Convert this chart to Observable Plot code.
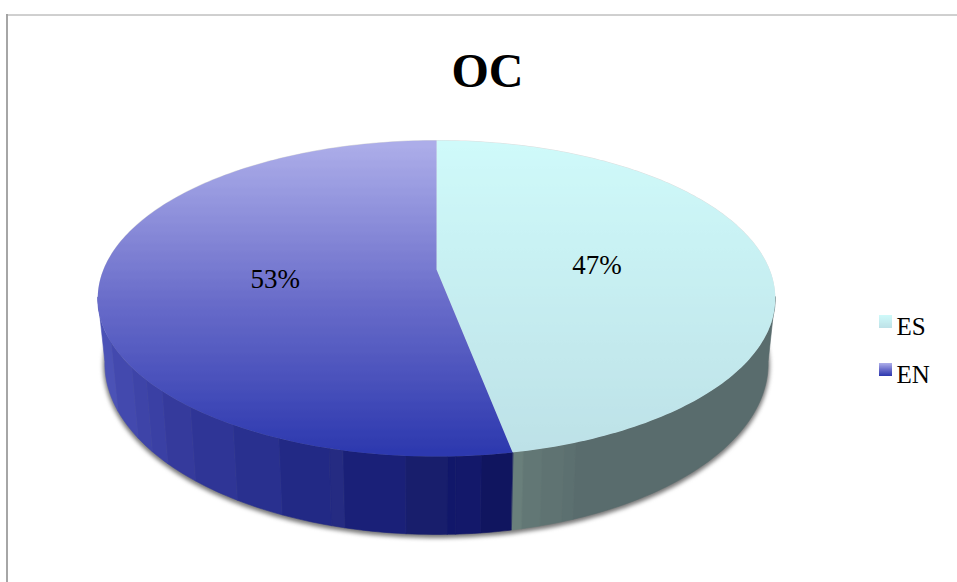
<!DOCTYPE html>
<html>
<head>
<meta charset="utf-8">
<script src="https://cdn.jsdelivr.net/npm/d3@7"></script>
<script src="https://cdn.jsdelivr.net/npm/@observablehq/plot@0.6"></script>
<style>
  html, body { margin: 0; padding: 0; background: #fff; }
  svg { display: block; }
</style>
</head>
<body>
<div id="chart"></div>
<script>
// Shares of the pie, clockwise from twelve o'clock
const categories = ["ES", "EN"];
const shares = [47, 53];
const chartTitle = "OC";

// Side-wall shading on the visible front arc: each band runs up to the given angle
// (degrees, clockwise from the top), the first one starting at wallStart
const wallStart = 100;
const wallAngles = [159.8, 161.6, 164.9, 167.7, 169.2, 173.7, 177.3, 178.5, 184.4, 193.4, 195.4, 203.2, 211, 219.4, 226, 230.3, 235, 244, 260];
const wallColors = ["#596c6d", "#5c7070", "#5f7372", "#627775", "#697f7b", "#10155f", "#13186a", "#11176a", "#181e6c", "#1a2078", "#252b82", "#222985", "#29308f", "#2f3596", "#353a9c", "#3a40a4", "#3e44a8", "#4349ae", "#4b52b6"];

// Perspective of the disc: upper rim and lower rim have their own apex and radii
const W = 957, H = 582;
const centerX = 436, perspective = 0.1836;
const rim = {
  apexY: [269, 331.6],
  radiusX: [333, 326],
  radiusY: [152.7, 165.2]
};

function project(deg, r = 1, level = 0) {
  const t = deg * Math.PI / 180;
  const X = r * Math.sin(t), Y = r * Math.cos(t);
  const w = 1 + perspective * Y;
  return {
    x: centerX + rim.radiusX[level] * X / w,
    y: rim.apexY[level] - rim.radiusY[level] * Y / w
  };
}
const arcPoints = (from, to, level = 0) =>
  d3.range(from, to, 1).concat(to).map((deg) => project(deg, 1, level));

// Slices as angle ranges derived from the shares
const total = d3.sum(shares);
let running = 0;
const slices = categories.map((name, i) => {
  const start = running;
  running += shares[i] / total * 360;
  return {name, share: shares[i], start, end: running, mid: (start + running) / 2};
});

const faces = slices.map((s) => [project(0, 0), ...arcPoints(s.start, s.end)]);

const wallRows = wallAngles.flatMap((end, i) => {
  const start = i ? wallAngles[i - 1] : wallStart;
  const top = arcPoints(start, end, 0), bottom = arcPoints(start, end, 1).reverse();
  return [...top, ...bottom].map((p) => ({...p, band: i, color: wallColors[i]}));
});

// Vertical face shading, stepped into thin, soft-edged horizontal stripes
const stripes = 34;
function gradient(id, colors) {
  const tone = d3.piecewise(d3.interpolateRgb, colors);
  const stops = d3.range(stripes).flatMap((i) => {
    const c = tone((i + 0.5) / stripes);
    return [`<stop offset="${(i + 0.3) / stripes}" stop-color="${c}"/>`, `<stop offset="${(i + 0.7) / stripes}" stop-color="${c}"/>`];
  });
  return `<linearGradient id="${id}" x1="0" y1="0" x2="0" y2="1">${stops.join("")}</linearGradient>`;
}

function gradientDefs() {
  const defs = document.createElementNS("http://www.w3.org/2000/svg", "defs");
  defs.innerHTML =
    gradient("fillES", ["#cffafa", "#bde1e7"]) +
    gradient("fillEN", ["#aeafea", "#6a6dca", "#2b37ae"]);
  return defs;
}

const fills = {ES: "url(#fillES)", EN: "url(#fillEN)"};
const legendY = {ES: 321.5, EN: 369.5};

const chart = Plot.plot({
  width: W,
  height: H,
  margin: 0,
  style: {background: "#fff"},
  x: {domain: [0, W], range: [0, W], axis: null},
  y: {domain: [0, H], range: [0, H], axis: null},
  color: {type: "identity"},
  marks: [
    gradientDefs,
    // Chart area border: only the top and left edges fall inside the frame
    Plot.ruleX([6.5], {y1: 14, y2: H, stroke: "#a6a6a6", strokeWidth: 2}),
    Plot.ruleY([14.5], {x1: 6, x2: W, stroke: "#a0a0a0", strokeWidth: 1}),
    // Soft shadow under the disc
    Plot.line(arcPoints(0, 360, 1), {
      x: "x", y: (d) => d.y + 2, curve: "linear-closed",
      fill: "#777", stroke: "#777", strokeWidth: 3, imageFilter: "blur(2px)"
    }),
    Plot.line(arcPoints(0, 360, 0), {
      x: "x", y: (d) => d.y - 0.5, curve: "linear-closed",
      fill: "#ddd", imageFilter: "blur(0.5px)"
    }),
    // Side wall, one flat band per shade
    Plot.line(wallRows, {
      x: "x", y: "y", z: "band", curve: "linear-closed",
      fill: "color", stroke: "color", strokeWidth: 0.6
    }),
    // Top faces
    ...slices.map((s, i) => Plot.line(faces[i], {
      x: "x", y: "y", curve: "linear-closed", fill: fills[s.name]
    })),
    // Percentage labels
    Plot.text(slices, {
      x: (s) => project(s.mid, 0.485).x,
      y: (s) => project(s.mid, 0.485).y,
      dx: 1,
      dy: 3,
      text: (s) => `${s.share}%`,
      fontFamily: "Liberation Serif",
      fontSize: 27,
      fill: "#000"
    }),
    // Title
    Plot.text([chartTitle], {
      x: [487], y: [71], text: (d) => d,
      fontFamily: "Liberation Serif", fontWeight: "bold", fontSize: 48, fill: "#000"
    }),
    // Legend
    Plot.rect(slices, {
      x1: () => 879, x2: () => 892,
      y1: (s) => legendY[s.name] - 6.5, y2: (s) => legendY[s.name] + 6.5,
      fill: (s) => fills[s.name]
    }),
    Plot.text(slices, {
      x: () => 896, y: (s) => legendY[s.name] + 4.5,
      text: "name", textAnchor: "start",
      fontFamily: "Liberation Serif", fontSize: 25, fill: "#000"
    })
  ]
});

document.getElementById("chart").append(chart);
</script>
</body>
</html>
